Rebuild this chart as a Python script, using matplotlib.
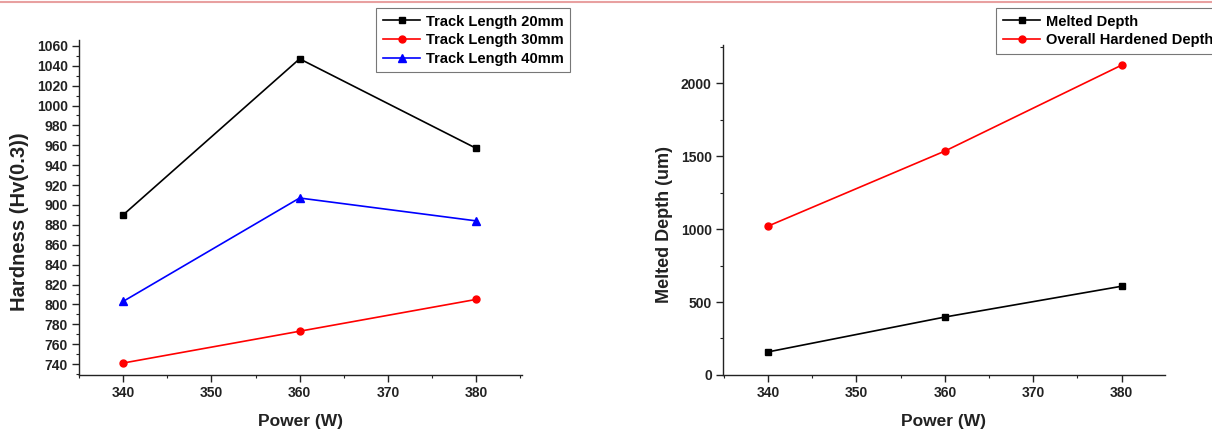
import matplotlib
matplotlib.use("Agg")
import matplotlib.pyplot as plt
from matplotlib.lines import Line2D
from matplotlib.ticker import MultipleLocator

plt.rcParams['font.family'] = ['Liberation Sans', 'DejaVu Sans']
plt.rcParams['font.weight'] = 'bold'

power = [340, 360, 380]
track20 = [890, 1047, 957]
track30 = [741, 773, 805]
track40 = [803, 907, 884]
melted_depth = [158, 397, 608]
hardened_depth = [1020, 1534, 2123]

fig = plt.figure(figsize=(12.12, 4.34), dpi=100)

def style(ax):
    for s in ['top', 'right']:
        ax.spines[s].set_visible(False)
    for s in ['left', 'bottom']:
        ax.spines[s].set_linewidth(1.0)
        ax.spines[s].set_color('#222222')
    ax.tick_params(which='major', direction='out', length=5, width=1, labelsize=10,
                   pad=3, colors='#222222')
    ax.tick_params(which='minor', direction='out', length=2.5, width=0.8, colors='#222222')
    for lab in ax.get_xticklabels() + ax.get_yticklabels():
        lab.set_fontweight('bold')
    ax.xaxis.set_major_locator(MultipleLocator(10))
    ax.xaxis.set_minor_locator(MultipleLocator(5))

leg_kw = dict(fontsize=10.5, frameon=True, fancybox=False, edgecolor='#555555',
              handlelength=2.6, borderpad=0.45, labelspacing=0.32, handletextpad=0.35,
              borderaxespad=0)

# Left chart
ax1 = fig.add_axes([0.0652, 0.136, 0.3655, 0.772])
ax1.plot(power, track20, color='black', marker='s', markersize=5, lw=1.2, label='Track Length 20mm')
ax1.plot(power, track30, color='red', marker='o', markersize=5, lw=1.2, label='Track Length 30mm')
ax1.plot(power, track40, color='blue', marker='^', markersize=5.5, lw=1.2, label='Track Length 40mm')
ax1.set_xlim(335, 385.2)
ax1.set_ylim(729, 1066)
ax1.yaxis.set_major_locator(MultipleLocator(20))
ax1.yaxis.set_minor_locator(MultipleLocator(10))
style(ax1)
ax1.set_xlabel('Power (W)', fontsize=12.5, fontweight='bold', color='#222222', labelpad=10)
ax1.set_ylabel('Hardness (Hv(0.3))', fontsize=14.5, fontweight='bold', color='#222222')
ax1.yaxis.set_label_coords(-0.113, 0.457)
leg1 = ax1.legend(loc='upper left', bbox_to_anchor=(376 / 1212, 1 - 8 / 434),
                  bbox_transform=fig.transFigure, **leg_kw)
leg1.get_frame().set_linewidth(0.8)

# Right chart
ax2 = fig.add_axes([0.5965, 0.136, 0.3647, 0.760])
ax2.plot(power, melted_depth, color='black', marker='s', markersize=5, lw=1.2, label='Melted Depth')
ax2.plot(power, hardened_depth, color='red', marker='o', markersize=5, lw=1.2, label='Overall Hardened Depth')
ax2.set_xlim(334.9, 384.9)
ax2.set_ylim(0, 2260)
ax2.yaxis.set_major_locator(MultipleLocator(500))
ax2.yaxis.set_minor_locator(MultipleLocator(250))
style(ax2)
ax2.set_xlabel('Power (W)', fontsize=12.5, fontweight='bold', color='#222222', labelpad=10)
ax2.set_ylabel('Melted Depth (um)', fontsize=13, fontweight='bold', color='#222222')
ax2.yaxis.set_label_coords(-0.113, 0.455)
leg2 = ax2.legend(loc='upper left', bbox_to_anchor=(996 / 1212, 1 - 8 / 434),
                  bbox_transform=fig.transFigure, **leg_kw)
leg2.get_frame().set_linewidth(0.8)

# top border line of the document
fig.add_artist(Line2D([0, 1], [0.995, 0.995], transform=fig.transFigure, color='#e8a0a0', lw=1.5))

fig.savefig('out.png', dpi=100)
